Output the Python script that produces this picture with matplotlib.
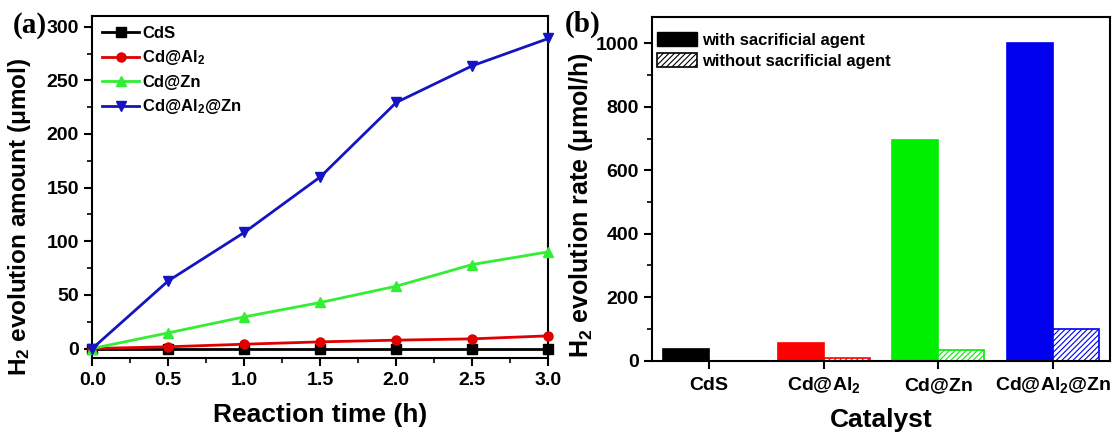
import matplotlib
matplotlib.use("Agg")
import matplotlib.pyplot as plt
from matplotlib.ticker import MultipleLocator, AutoMinorLocator

plt.rcParams["font.family"] = ["Liberation Sans", "DejaVu Sans"]
plt.rcParams["font.weight"] = "bold"
plt.rcParams["mathtext.fontset"] = "custom"
plt.rcParams["mathtext.rm"] = "Liberation Sans:bold"
plt.rcParams["mathtext.bf"] = "Liberation Sans:bold"
plt.rcParams["mathtext.it"] = "Liberation Sans:bold"
plt.rcParams["hatch.linewidth"] = 0.8

# (a) cumulative H2 evolution
time_h = [0.0, 0.5, 1.0, 1.5, 2.0, 2.5, 3.0]
cds = [0, 0, 0, 0, 0, 0, 0]
cd_al2 = [0, 1.6, 4, 6.2, 7.8, 9, 11.8]
cd_zn = [0, 14.6, 29.5, 42.9, 58.1, 78.3, 90.1]
cd_al2_zn = [0, 63.1, 108.2, 160, 229.4, 263.6, 289]

# (b) H2 evolution rate
catalysts = ["CdS", "Cd@Al$_2$", "Cd@Zn", "Cd@Al$_2$@Zn"]
rate_with = [36, 57, 697, 1002]
rate_without = [0, 7.5, 34, 99]
bar_colors = ["#000000", "#ff0000", "#00ee00", "#0000ee"]

fig = plt.figure(figsize=(11.12, 4.34), dpi=100)
ax1 = fig.add_axes([0.0830, 0.1740, 0.4101, 0.7892])
ax2 = fig.add_axes([0.5863, 0.1689, 0.4119, 0.7926])

series = [
    ("CdS", cds, "#000000", "s"),
    ("Cd@Al$_2$", cd_al2, "#e00000", "o"),
    ("Cd@Zn", cd_zn, "#33ee33", "^"),
    ("Cd@Al$_2$@Zn", cd_al2_zn, "#1414c0", "v"),
]
for label, vals, col, mk in series:
    ax1.plot(time_h, vals, color=col, marker=mk, markersize=6.5, lw=2.0,
             label=label, clip_on=False, zorder=3)

ax1.set_xlim(0, 3.0)
ax1.set_ylim(-9.3, 310)
ax1.xaxis.set_major_locator(MultipleLocator(0.5))
ax1.xaxis.set_minor_locator(AutoMinorLocator(2))
ax1.yaxis.set_major_locator(MultipleLocator(50))
ax1.yaxis.set_minor_locator(AutoMinorLocator(2))
ax1.set_xlabel("Reaction time (h)", fontsize=19, fontweight="bold", labelpad=10)
ax1.set_ylabel("H$_2$ evolution amount (μmol)", fontsize=17.5, fontweight="bold")
ax1.yaxis.set_label_coords(-0.130, 0.413)
ax1.legend(loc="upper left", frameon=False, handlelength=2.2,
           handletextpad=0.2, labelspacing=0.45, borderaxespad=0.3, borderpad=0.3,
           prop={"weight": "bold", "size": 12})

xpos = list(range(1, len(catalysts) + 1))
w = 0.4
for i, x in enumerate(xpos):
    ax2.bar(x, rate_with[i], width=-w, align="edge", color=bar_colors[i],
            edgecolor=bar_colors[i], lw=1.2)
    ax2.bar(x, rate_without[i], width=w, align="edge", facecolor="white",
            edgecolor=bar_colors[i], hatch="//////", lw=1.2)
h_with = plt.Rectangle((0, 0), 1, 1, facecolor="black", edgecolor="black")
h_without = plt.Rectangle((0, 0), 1, 1, facecolor="white", edgecolor="black",
                          hatch="//////", lw=1.2)
ax2.legend([h_with, h_without], ["with sacrificial agent", "without sacrificial agent"],
           loc="upper left", bbox_to_anchor=(0.0103, 0.956), frameon=False,
           handlelength=2.4, handleheight=0.9, handletextpad=0.3, labelspacing=0.35,
           borderaxespad=0, borderpad=0, prop={"weight": "bold", "size": 12})

ax2.set_xlim(0.5, 4.5)
ax2.set_ylim(0, 1084)
ax2.set_xticks(xpos)
ax2.set_xticklabels(catalysts)
ax2.yaxis.set_major_locator(MultipleLocator(200))
ax2.yaxis.set_minor_locator(AutoMinorLocator(2))
ax2.set_xlabel("Catalyst", fontsize=19, fontweight="bold", labelpad=9)
ax2.set_ylabel("H$_2$ evolution rate (μmol/h)", fontsize=18, fontweight="bold")
ax2.yaxis.set_label_coords(-0.124, 0.453)

for ax in (ax1, ax2):
    for sp in ax.spines.values():
        sp.set_linewidth(1.5)
    ax.tick_params(which="major", direction="out", length=5.5, width=1.5,
                   labelsize=14, pad=4, top=False, right=False)
    ax.tick_params(which="minor", direction="out", length=3.5, width=1.2,
                   top=False, right=False)
    for t in ax.get_xticklabels() + ax.get_yticklabels():
        t.set_fontweight("bold")
ax2.tick_params(axis="x", which="minor", bottom=False)
ax2.tick_params(axis="x", which="major", pad=15.6)
for t in ax2.get_xticklabels():
    t.set_verticalalignment("baseline")

fig.text(0.0114, 0.942, "(a)", fontsize=21, fontweight="bold", va="center",
         family=["Liberation Serif", "DejaVu Serif"])
fig.text(0.508, 0.944, "(b)", fontsize=21, fontweight="bold", va="center",
         family=["Liberation Serif", "DejaVu Serif"])

fig.savefig("out.png", dpi=100)
